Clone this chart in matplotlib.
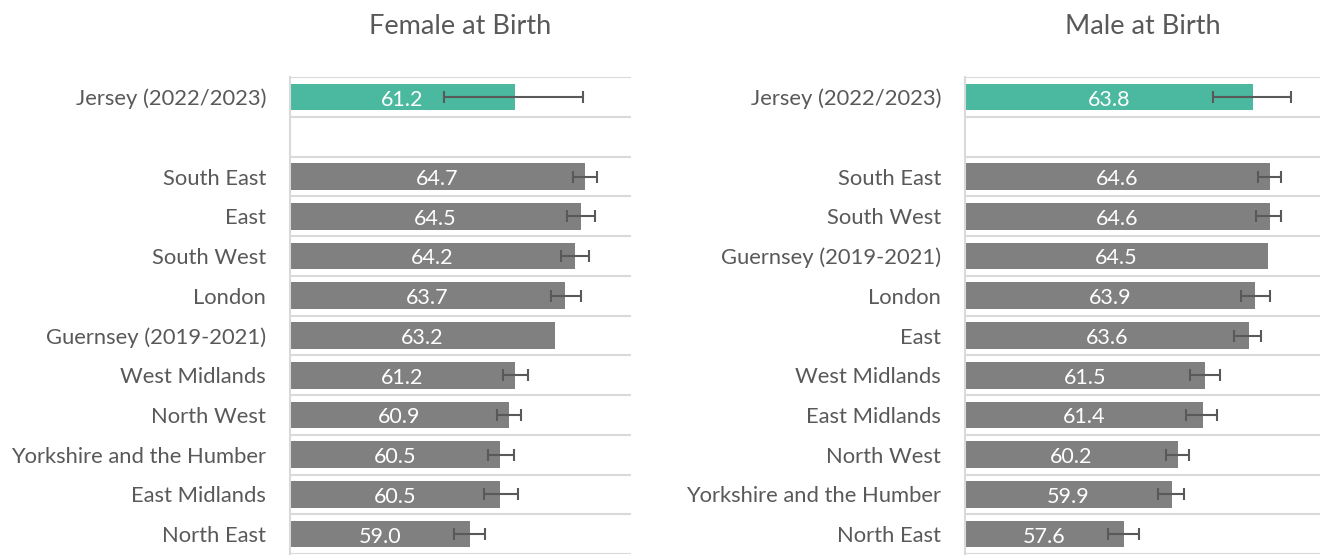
import numpy as np
import matplotlib
matplotlib.use('Agg')
import matplotlib.pyplot as plt

plt.rcParams['font.family'] = ['Lato', 'DejaVu Sans']

# female at birth
female_labels = ['Jersey (2022/2023)', '', 'South East', 'East', 'South West', 'London',
                 'Guernsey (2019-2021)', 'West Midlands', 'North West',
                 'Yorkshire and the Humber', 'East Midlands', 'North East']
female_values = [61.2, None, 64.7, 64.5, 64.2, 63.7, 63.2, 61.2, 60.9, 60.5, 60.5, 59.0]
female_low = [57.7, None, 64.1, 63.8, 63.5, 63.0, None, 60.6, 60.35, 59.9, 59.7, 58.2]
female_high = [64.6, None, 65.3, 65.2, 64.9, 64.5, None, 61.85, 61.5, 61.15, 61.35, 59.75]

# male at birth
male_labels = ['Jersey (2022/2023)', '', 'South East', 'South West', 'Guernsey (2019-2021)',
               'London', 'East', 'West Midlands', 'East Midlands', 'North West',
               'Yorkshire and the Humber', 'North East']
male_values = [63.8, None, 64.6, 64.6, 64.5, 63.9, 63.6, 61.5, 61.4, 60.2, 59.9, 57.6]
male_low = [61.9, None, 64.05, 63.95, None, 63.2, 62.9, 60.8, 60.6, 59.65, 59.25, 56.85]
male_high = [65.6, None, 65.15, 65.15, None, 64.6, 64.2, 62.2, 62.05, 60.75, 60.5, 58.35]

TEAL = '#4BB8A0'
GREY = '#808080'
TEXT = '#595959'
GRID = '#D9D9D9'


def draw_panel(ax, labels, values, low, high, title):
    y = np.arange(len(labels))
    for i, v in enumerate(values):
        if v is None:
            continue
        color = TEAL if i == 0 else GREY
        ax.barh(i, v - 50, left=50, height=0.67, color=color, zorder=2)
        ax.text(50 + (v - 50) / 2, i + 0.06, f'{v:.1f}', color='white', fontsize=15.5,
                ha='center', va='center', zorder=3)
        if low[i] is not None:
            ax.errorbar(v, i, xerr=[[v - low[i]], [high[i] - v]], fmt='none',
                        ecolor='#595959', elinewidth=1.5, capsize=4.3, capthick=1.5, zorder=4)
    ax.set_xlim(50, 67)
    ax.set_ylim(len(labels) - 0.5, -0.5)
    ax.set_yticks(y)
    ax.set_yticklabels(labels, fontsize=15.8, color=TEXT)
    ax.set_yticks(np.arange(-0.5, len(labels)), minor=True)
    ax.tick_params(axis='y', which='both', length=0, pad=17)
    ax.tick_params(axis='x', bottom=False, labelbottom=False)
    ax.grid(axis='y', which='minor', color=GRID, linewidth=1.5, zorder=0)
    ax.grid(axis='y', which='major', visible=False)
    for s in ['top', 'right', 'bottom']:
        ax.spines[s].set_visible(False)
    ax.spines['left'].set_color(GRID)
    ax.spines['left'].set_linewidth(1.5)
    ax.set_title(title, fontsize=19.5, color=TEXT, pad=31)


fig = plt.figure(figsize=(13.2, 5.56), dpi=100)
ax1 = fig.add_axes([0.2195, 0.0036, 0.2585, 0.8574])
ax2 = fig.add_axes([0.7308, 0.0036, 0.2692, 0.8574])

draw_panel(ax1, female_labels, female_values, female_low, female_high, 'Female at Birth')
draw_panel(ax2, male_labels, male_values, male_low, male_high, 'Male at Birth')

fig.savefig('out.png', dpi=100)
